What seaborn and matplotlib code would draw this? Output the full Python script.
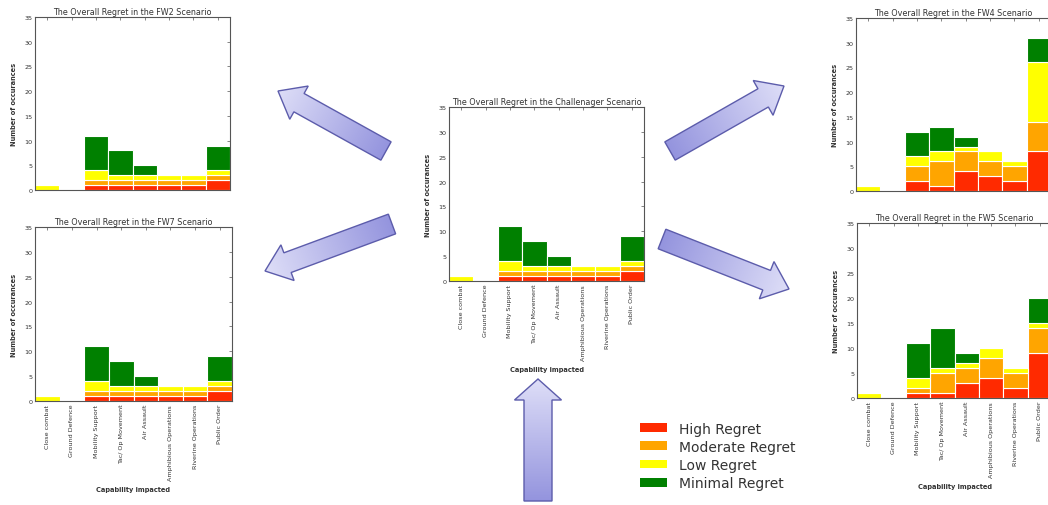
import numpy as np
import pandas as pd
import matplotlib
matplotlib.use("Agg")
import matplotlib.pyplot as plt
from matplotlib.patches import Polygon, Patch
import seaborn as sns

# ---------------------------------------------------------------- data
categories = ["Close combat", "Ground Defence", "Mobility Support",
              "Tac/ Op Movement", "Air Assault", "Amphibious Operations",
              "Riverine Operations", "Public Order"]
levels = ["High Regret", "Moderate Regret", "Low Regret", "Minimal Regret"]
level_colors = ["#ff2a00", "#ffa500", "#ffff00", "#008000"]

# counts per capability for each regret level
fw2_high = [0, 0, 1, 1, 1, 1, 1, 2]
fw2_moderate = [0, 0, 1, 1, 1, 1, 1, 1]
fw2_low = [1, 0, 2, 1, 1, 1, 1, 1]
fw2_minimal = [0, 0, 7, 5, 2, 0, 0, 5]

fw7_high = [0, 0, 1, 1, 1, 1, 1, 2]
fw7_moderate = [0, 0, 1, 1, 1, 1, 1, 1]
fw7_low = [1, 0, 2, 1, 1, 1, 1, 1]
fw7_minimal = [0, 0, 7, 5, 2, 0, 0, 5]

chal_high = [0, 0, 1, 1, 1, 1, 1, 2]
chal_moderate = [0, 0, 1, 1, 1, 1, 1, 1]
chal_low = [1, 0, 2, 1, 1, 1, 1, 1]
chal_minimal = [0, 0, 7, 5, 2, 0, 0, 5]

fw4_high = [0, 0, 2, 1, 4, 3, 2, 8]
fw4_moderate = [0, 0, 3, 5, 4, 3, 3, 6]
fw4_low = [1, 0, 2, 2, 1, 2, 1, 12]
fw4_minimal = [0, 0, 5, 5, 2, 0, 0, 5]

fw5_high = [0, 0, 1, 1, 3, 4, 2, 9]
fw5_moderate = [0, 0, 1, 4, 3, 4, 3, 5]
fw5_low = [1, 0, 2, 1, 1, 2, 1, 1]
fw5_minimal = [0, 0, 7, 8, 2, 0, 0, 5]

# ---------------------------------------------------------------- style
sns.set_style("white")
plt.rcParams["font.family"] = ["DejaVu Sans"]
TXT = "#333333"
SPINE = "#555555"

W, H = 1048, 506
fig = plt.figure(figsize=(W / 100, H / 100), dpi=100)
fig.patch.set_facecolor("white")

# overlay in pixel coordinates for the connecting arrows
over = fig.add_axes([0, 0, 1, 1], zorder=0)
over.set_axis_off()
over.patch.set_alpha(0)


def draw_arrow(ax, tail, tip, shaft_w, head_w, head_l,
               dark=(0.58, 0.58, 0.87), light=(0.87, 0.87, 0.97)):
    tail = np.asarray(tail, float)
    tip = np.asarray(tip, float)
    d = tip - tail
    length = np.hypot(*d)
    u = d / length
    n = np.array([-u[1], u[0]])
    base = tip - u * head_l
    verts = np.array([tail + n * shaft_w / 2, base + n * shaft_w / 2,
                      base + n * head_w / 2, tip, base - n * head_w / 2,
                      base - n * shaft_w / 2, tail - n * shaft_w / 2])
    poly = Polygon(verts, closed=True, facecolor="none",
                   edgecolor="#5c5cab", lw=1.0, zorder=3, joinstyle="miter")
    ax.add_patch(poly)
    x0, y0 = verts.min(axis=0) - 2
    x1, y1 = verts.max(axis=0) + 2
    xs = np.linspace(x0, x1, int(x1 - x0) + 1)
    ys = np.linspace(y0, y1, int(y1 - y0) + 1)
    X, Y = np.meshgrid(xs, ys)
    t = ((X - tail[0]) * u[0] + (Y - tail[1]) * u[1]) / length
    t = np.clip(t, 0, 1)[..., None]
    img = np.array(dark)[None, None, :] * (1 - t) + np.array(light)[None, None, :] * t
    im = ax.imshow(img, extent=(x0, x1, y1, y0), origin="upper",
                   interpolation="bilinear", zorder=2)
    im.set_clip_path(poly)


draw_arrow(over, (386, 152), (278, 92), 21, 38, 24)
draw_arrow(over, (392, 225), (265, 272), 21, 38, 24)
draw_arrow(over, (670, 152), (784, 87), 21, 40, 24)
draw_arrow(over, (662, 240), (789, 290), 21, 40, 24)
draw_arrow(over, (538, 502), (538, 380), 28, 47, 21)
over.set_aspect("auto")
over.set_xlim(0, W)
over.set_ylim(H, 0)


# ---------------------------------------------------------------- panels
def panel(rect, title, high, moderate, low, minimal, show_xlabels=True):
    ax = fig.add_axes(rect, zorder=1)
    rows = []
    for lvl, vals in zip(levels, [high, moderate, low, minimal]):
        for cat, v in zip(categories, vals):
            rows.append({"capability": cat, "regret": lvl, "count": v})
    df = pd.DataFrame(rows)
    df["capability"] = pd.Categorical(df["capability"], categories=categories)
    sns.histplot(data=df, x="capability", weights="count", hue="regret",
                 hue_order=levels[::-1], multiple="stack", discrete=True,
                 shrink=1.0, palette=dict(zip(levels, level_colors)),
                 alpha=1, edgecolor="white", linewidth=0.8, legend=False,
                 ax=ax)
    ax.set_xlim(-0.5, len(categories) - 0.5)
    ax.set_ylim(0, 35)
    ax.set_yticks(range(0, 36, 5))
    ax.set_xticks(range(len(categories)))
    ax.set_xticklabels(categories, rotation=90)
    ax.tick_params(direction="in", top=True, right=True, length=2.5,
                   width=0.5, colors=SPINE, labelcolor=TXT, labelsize=4.6,
                   pad=2)
    for sp in ax.spines.values():
        sp.set_visible(True)
        sp.set_color(SPINE)
        sp.set_linewidth(0.8)
    ax.set_ylabel("Number of occurances", fontsize=4.8, fontweight="bold",
                  color=TXT, labelpad=5)
    if show_xlabels:
        ax.set_xlabel("Capability impacted", fontsize=4.8, fontweight="bold",
                      color=TXT, labelpad=5)
    else:
        ax.tick_params(labelbottom=False)
        ax.set_xlabel("")
    ax.set_title(title, fontsize=5.8, color=TXT, pad=2.5)
    return ax


panel([35 / W, 1 - 191 / H, 195 / W, 173 / H],
      "The Overall Regret in the FW2 Scenario",
      fw2_high, fw2_moderate, fw2_low, fw2_minimal, show_xlabels=False)
panel([35 / W, 1 - 402 / H, 197 / W, 174 / H],
      "The Overall Regret in the FW7 Scenario",
      fw7_high, fw7_moderate, fw7_low, fw7_minimal)
panel([449 / W, 1 - 282 / H, 195 / W, 174 / H],
      "The Overall Regret in the Challenager Scenario",
      chal_high, chal_moderate, chal_low, chal_minimal)
panel([856 / W, 1 - 192 / H, 195 / W, 173 / H],
      "The Overall Regret in the FW4 Scenario",
      fw4_high, fw4_moderate, fw4_low, fw4_minimal, show_xlabels=False)
panel([857 / W, 1 - 399 / H, 195 / W, 175 / H],
      "The Overall Regret in the FW5 Scenario",
      fw5_high, fw5_moderate, fw5_low, fw5_minimal)

# ---------------------------------------------------------------- legend
handles = [Patch(facecolor=c, edgecolor="none") for c in level_colors]
leg = fig.legend(handles, levels, loc="upper left",
                 bbox_to_anchor=(634 / W, 1 - 417 / H), frameon=False,
                 fontsize=10, handlelength=2.0, handleheight=0.6,
                 labelspacing=0.3, handletextpad=0.85, borderaxespad=0)
for t in leg.get_texts():
    t.set_color(TXT)

fig.savefig("out.png", dpi=100, facecolor="white")
